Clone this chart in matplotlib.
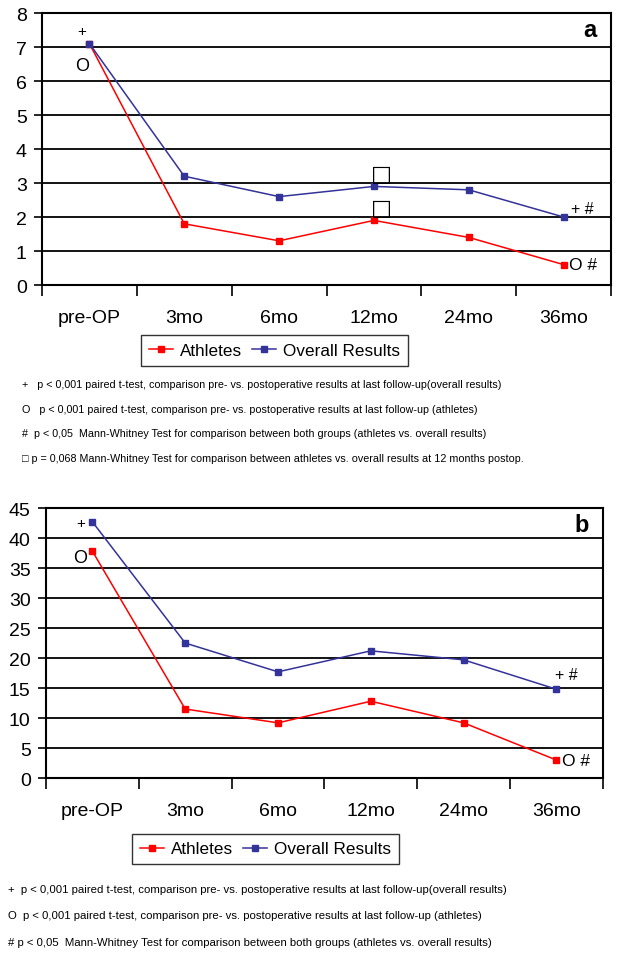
import matplotlib.pyplot as plt
from matplotlib.lines import Line2D

# Categories (follow-up times)
categories = ['pre-OP', '3mo', '6mo', '12mo', '24mo', '36mo']

# Panel a values
a_athletes = [7.1, 1.8, 1.3, 1.9, 1.4, 0.6]
a_overall = [7.1, 3.2, 2.6, 2.9, 2.8, 2.0]

# Panel b values
b_athletes = [37.8, 11.5, 9.2, 12.8, 9.2, 3.0]
b_overall = [42.7, 22.5, 17.7, 21.2, 19.7, 14.8]

a_notes = [
    '+   p < 0,001 paired t-test, comparison pre- vs. postoperative results at last follow-up(overall results)',
    'O   p < 0,001 paired t-test, comparison pre- vs. postoperative results at last follow-up (athletes)',
    '#  p < 0,05  Mann-Whitney Test for comparison between both groups (athletes vs. overall results)',
    '\u25a1 p = 0,068 Mann-Whitney Test for comparison between athletes vs. overall results at 12 months postop.',
]
b_notes = [
    '+  p < 0,001 paired t-test, comparison pre- vs. postoperative results at last follow-up(overall results)',
    'O  p < 0,001 paired t-test, comparison pre- vs. postoperative results at last follow-up (athletes)',
    '# p < 0,05  Mann-Whitney Test for comparison between both groups (athletes vs. overall results)',
]

RED = '#ff0000'
BLUE = '#333399'
plt.rcParams['font.family'] = ['Liberation Sans', 'DejaVu Sans']

fig = plt.figure(figsize=(6.27, 9.54), dpi=100)


def draw_panel(ax, athletes, overall, ymax, ystep, label):
    x = list(range(len(categories)))
    ax.plot(x, athletes, '-s', color=RED, lw=1.1, ms=4.5, zorder=3)
    ax.plot(x, overall, '-s', color=BLUE, lw=1.1, ms=4.5, zorder=3)
    ax.set_xlim(-0.5, len(categories) - 0.5)
    ax.set_ylim(0, ymax)
    ax.set_yticks(range(0, ymax + 1, ystep))
    ax.yaxis.grid(True, color='black', lw=1.3)
    ax.set_axisbelow(True)
    ax.set_xticks([i - 0.5 for i in range(len(categories) + 1)])
    ax.set_xticklabels([])
    ax.set_xticks(x, minor=True)
    ax.set_xticklabels(categories, minor=True)
    ax.tick_params(axis='x', which='minor', length=0, pad=17, labelsize=14)
    ax.tick_params(axis='x', which='major', length=8, width=1.2, direction='out')
    ax.tick_params(axis='y', length=6, width=1.2, labelsize=14, pad=5)
    for s in ax.spines.values():
        s.set_linewidth(1.5)
    ax.text(0.975, 0.94, label, transform=ax.transAxes, ha='right', va='center',
            fontsize=17, fontweight='bold')


ax1 = fig.add_axes([0.067, 0.7002, 0.9075, 0.2851])
draw_panel(ax1, a_athletes, a_overall, 8, 1, 'a')
ax1.text(-0.08, 7.47, '+', ha='center', va='center', fontsize=11)
ax1.text(-0.08, 6.47, 'O', ha='center', va='center', fontsize=13)
ax1.text(3.08, 3.26, '\u25a1', ha='center', va='center', fontsize=16, family=['DejaVu Sans'])
ax1.text(3.08, 2.26, '\u25a1', ha='center', va='center', fontsize=16, family=['DejaVu Sans'])
ax1.text(5.2, 2.24, '+ #', ha='center', va='center', fontsize=11.5)
ax1.text(5.2, 0.59, 'O #', ha='center', va='center', fontsize=12.5)

ax2 = fig.add_axes([0.0734, 0.1834, 0.888, 0.2830])
draw_panel(ax2, b_athletes, b_overall, 45, 5, 'b')
ax2.text(-0.13, 42.5, '+', ha='center', va='center', fontsize=11)
ax2.text(-0.13, 36.7, 'O', ha='center', va='center', fontsize=13)
ax2.text(5.11, 17.3, '+ #', ha='center', va='center', fontsize=11.5)
ax2.text(5.21, 3.0, 'O #', ha='center', va='center', fontsize=12.5)

handles = [Line2D([], [], color=RED, marker='s', lw=1.1, ms=4),
           Line2D([], [], color=BLUE, marker='s', lw=1.1, ms=4)]
for anchor in [(274.5 / 627, 1 - 351.5 / 954), (265.5 / 627, 1 - 850 / 954)]:
    leg = fig.legend(handles, ['Athletes', 'Overall Results'], loc='center',
                     bbox_to_anchor=anchor, ncol=2, fontsize=12.3, frameon=True,
                     fancybox=False, edgecolor='black', handlelength=1.4,
                     handletextpad=0.4, columnspacing=0.6, borderpad=0.45,
                     borderaxespad=0)
    leg.get_frame().set_linewidth(1.0)

# footnotes: shrink each block so the longest line fits the reference width
renderer = fig.canvas.get_renderer()


def notes(lines, x0, y0, dy, x_right, size):
    texts = [fig.text(x0 / 627, 1 - (y0 + dy * i) / 954, t, ha='left', va='center',
                      fontsize=size) for i, t in enumerate(lines)]
    widest = max(t.get_window_extent(renderer).width for t in texts[:3])
    scale = (x_right - x0) / widest
    for t in texts:
        t.set_fontsize(size * scale)


notes(a_notes, 22, 385, 24.6, 497, 9)
notes(b_notes, 8, 890, 26.5, 510, 9)

fig.savefig('out.png', dpi=100)
